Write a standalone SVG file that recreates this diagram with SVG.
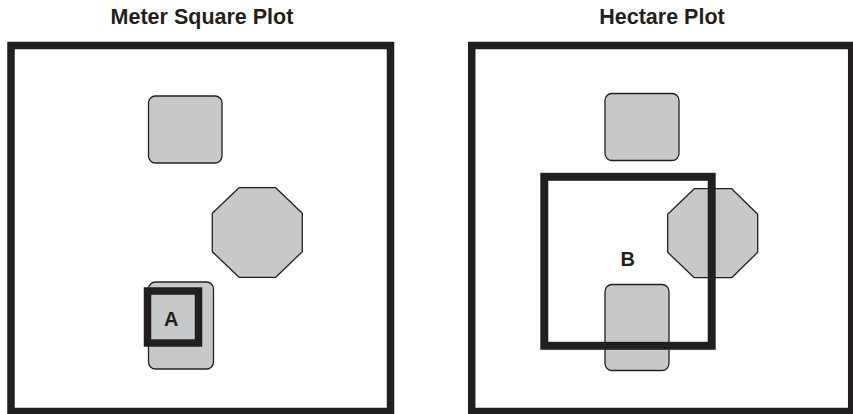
<svg xmlns="http://www.w3.org/2000/svg" width="853" height="414" viewBox="0 0 853 414">
  <style>
    .title { font-family: "Liberation Sans", Arial, sans-serif; font-weight: bold; font-size: 21.5px; fill: #231f20; text-anchor: middle; }
    .label { font-family: "Liberation Sans", Arial, sans-serif; font-weight: bold; font-size: 20px; fill: #231f20; text-anchor: middle; }
    .plot { fill: #ffffff; stroke: #231f20; stroke-width: 7.5; }
    .obj { fill: #c7c8ca; stroke: #231f20; stroke-width: 1.3; stroke-linejoin: round; }
    .sample { fill: none; stroke: #231f20; stroke-width: 8; }
  </style>
  <rect width="853" height="414" fill="#ffffff"/>

  <!-- Left panel: square-metre plot -->
  <g id="meter-square-plot">
    <text class="title" x="202" y="23.5">Meter Square Plot</text>
    <rect class="plot" x="11" y="45.5" width="379.5" height="366"/>
  </g>
  <g id="left-square-object">
    <rect class="obj" x="148.5" y="96" width="73.5" height="67" rx="7"/>
  </g>
  <g id="left-octagon-object">
    <polygon class="obj" points="239,187.7 275.7,187.7 302.3,213.3 302.3,251.7 275.7,277.3 239,277.3 212.3,251.7 212.3,213.3"/>
  </g>
  <g id="left-lower-object">
    <rect class="obj" x="148.5" y="282" width="65" height="87" rx="7"/>
  </g>
  <g id="sample-a">
    <rect class="sample" x="147.5" y="291" width="51" height="52" style="stroke-width:7.5"/>
    <text class="label" x="171.3" y="326">A</text>
  </g>

  <!-- Right panel: hectare plot -->
  <g id="hectare-plot">
    <text class="title" x="662" y="23.5">Hectare Plot</text>
    <rect class="plot" x="471.7" y="45.5" width="380" height="366"/>
  </g>
  <g id="right-square-object">
    <rect class="obj" x="605" y="93.5" width="74" height="67" rx="7"/>
  </g>
  <g id="right-octagon-object">
    <polygon class="obj" points="694.3,188.7 731.7,188.7 757.7,214.3 757.7,252.3 731.7,277.7 694.3,277.7 667.7,252.3 667.7,214.3"/>
  </g>
  <g id="right-lower-object">
    <rect class="obj" x="605" y="284.5" width="64" height="86" rx="7"/>
  </g>
  <g id="sample-b">
    <rect class="sample" x="544.3" y="176.8" width="167.4" height="169"/>
    <text class="label" x="627.7" y="266">B</text>
  </g>
</svg>
